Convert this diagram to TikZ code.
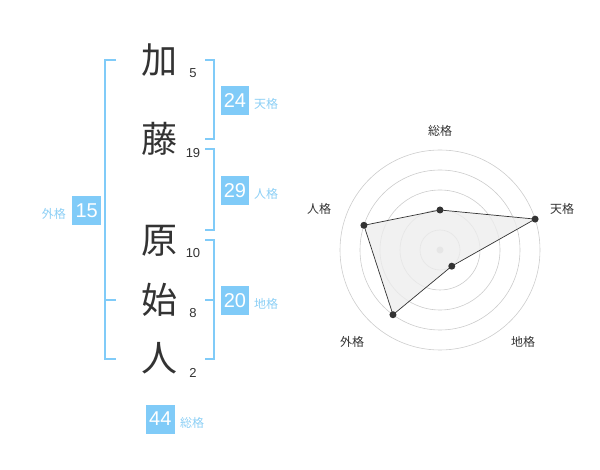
\documentclass[tikz,border=0pt]{standalone}
\usepackage{fontspec}
\setmainfont{Liberation Sans}
\newfontfamily\cjk{Noto Sans CJK JP}
\definecolor{kblue}{HTML}{80CBF8}
\definecolor{klab}{HTML}{8CCFF5}
\definecolor{kdark}{HTML}{333333}
\begin{document}
\begin{tikzpicture}[x=1pt,y=-1pt,
  kanji/.style={font=\cjk\fontsize{36}{36}\selectfont,text=kdark,inner sep=0pt},
  stroke/.style={font=\fontsize{13}{13}\selectfont,text=kdark,inner sep=0pt},
  numbox/.style={fill=kblue,text=white,font=\fontsize{20}{20}\selectfont,minimum width=28.5pt,minimum height=29pt,inner sep=0pt},
  kaku/.style={font=\cjk\fontsize{12}{12}\selectfont,text=klab,inner sep=0pt},
  brk/.style={draw=kblue,line width=2pt},
  ring/.style={draw=black!20,line width=0.6pt},
  rlab/.style={font=\cjk\fontsize{12}{12}\selectfont,text=kdark,inner sep=0pt},
  dot/.style={circle,fill=kdark,inner sep=0pt,minimum size=7pt}]
\useasboundingbox (0,0) rectangle (600,470);
% characters
\node[kanji] (c1) at (159,60) {加};
\node[kanji] (c2) at (159,139) {藤};
\node[kanji] (c3) at (159,241) {原};
\node[kanji] (c4) at (159,300) {始};
\node[kanji] (c5) at (159,358) {人};
\node[stroke] (s1) at (193,73) {5};
\node[stroke] (s2) at (193,153) {19};
\node[stroke] (s3) at (193,253) {10};
\node[stroke] (s4) at (193,313) {8};
\node[stroke] (s5) at (193,373) {2};
% brackets
\draw[brk] (116,60) -- (105,60) -- (105,359) -- (116,359);
\draw[brk] (105,300) -- (116,300);
\draw[brk] (205,60) -- (214,60) -- (214,139) -- (205,139);
\draw[brk] (205,149) -- (214,149) -- (214,230) -- (205,230);
\draw[brk] (205,240) -- (214,240) -- (214,359) -- (205,359);
\draw[brk] (205,300) -- (214,300);
% boxes
\node[numbox] (b1) at (235,100.5) {24};
\node[kaku,anchor=west] (l1) at (254,104) {天格};
\node[numbox] (b2) at (235,190.5) {29};
\node[kaku,anchor=west] (l2) at (254,194) {人格};
\node[numbox] (b3) at (86.7,210.5) {15};
\node[kaku,anchor=east] (l3) at (66,214) {外格};
\node[numbox] (b4) at (235,300.5) {20};
\node[kaku,anchor=west] (l4) at (254,304) {地格};
\node[numbox] (b5) at (160.3,419) {44};
\node[kaku,anchor=west] (l5) at (180,423) {総格};
% radar
\coordinate (o) at (440,250);
\foreach \r in {20,40,60,80,100} \draw[ring] (o) circle (\r);
\fill[black!20] (o) circle (3.5);
\path (o) ++(0,-40) coordinate (pa)
      (o) ++(95.1,-30.9) coordinate (pb)
      (o) ++(11.76,16.18) coordinate (pc)
      (o) ++(-47.02,64.72) coordinate (pd)
      (o) ++(-76.08,-24.72) coordinate (pe);
\draw[fill=black!7,fill opacity=0.8,draw=kdark,line width=0.7pt] (pa) -- (pb) -- (pc) -- (pd) -- (pe) -- cycle;
\foreach \p in {pa,pb,pc,pd,pe} \node[dot] at (\p) {};
\node[rlab] (r1) at (440,130.5) {総格};
\node[rlab] (r2) at (562,208.5) {天格};
\node[rlab] (r3) at (523,342) {地格};
\node[rlab] (r4) at (352,342) {外格};
\node[rlab] (r5) at (319,208.5) {人格};
\end{tikzpicture}
\end{document}
